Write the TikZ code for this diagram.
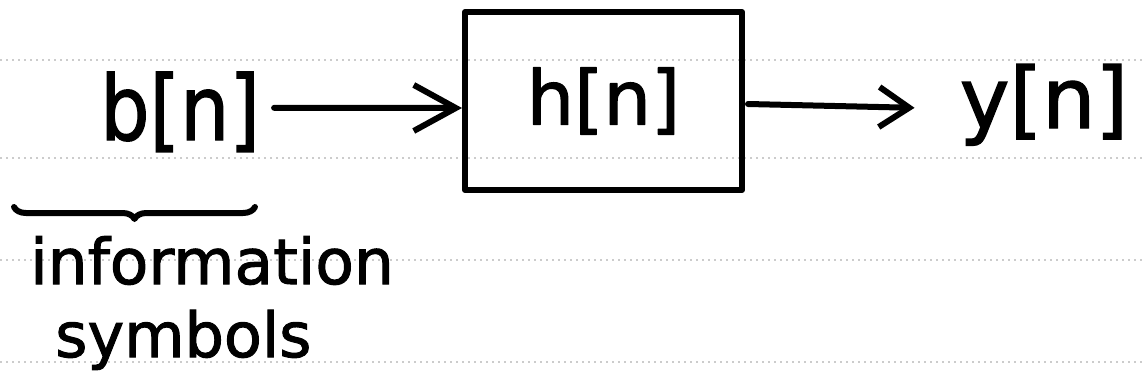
\documentclass[tikz,border=0pt]{standalone}
\usepackage{fontspec}
\setmainfont{DejaVu Sans}[FakeBold=1.6]
\usetikzlibrary{arrows.meta,decorations.pathreplacing}

\tikzset{
  ink/.style={line width=6pt, line cap=round, line join=round, black},
  rule/.style={gray!40, line width=1.2pt, dash pattern=on 1.5pt off 4.5pt},
  label/.style={inner sep=0pt, text=black},
  sysbox/.style={ink, draw, rectangle, minimum width=277pt, minimum height=178pt, inner sep=0pt},
  flow/.style={ink, -{Straight Barb[length=42pt,width=46pt,line width=6pt]}},
  flowshort/.style={ink, -{Straight Barb[length=30pt,width=40pt,line width=6pt]}},
  underbrace/.style={ink, decorate, decoration={brace, mirror, amplitude=12pt}}
}

\begin{document}
\begin{tikzpicture}[x=1pt, y=-1pt]
  \useasboundingbox[fill=white] (0,0) rectangle (1142,383);

  % faint ruled lines of the paper
  \foreach \ry in {60,158,260,362}
    \draw[rule] (0,\ry) -- (1142,\ry);

  % input, system and output
  \node[label, anchor=base, yscale=1.15] (b) at (180,140) {\fontsize{78}{90}\selectfont b[n]};
  \node[sysbox] (hbox) at (603.5,101) {\fontsize{75}{85}\selectfont h[n]};
  \node[label, anchor=base] (yn) at (1044,128) {\fontsize{84}{96}\selectfont y[n]};

  % signal flow
  \draw[flow] ([xshift=14pt,yshift=4pt]b.east) -- ([yshift=-7pt]hbox.west);
  \coordinate (yin) at ([xshift=-45pt,yshift=-3pt]yn.west);
  \draw[flowshort] ([xshift=3pt,yshift=-3pt]hbox.east) -- (yin);

  % brace and caption under the input
  \coordinate (brL) at (14,207);
  \coordinate (brR) at (255,207);
  \draw[underbrace] (brL) -- (brR);
  \node[label, anchor=base west] (info) at (30,284) {\fontsize{63}{72}\selectfont information};
  \node[label, anchor=base west] (sym) at (55,357) {\fontsize{62}{72}\selectfont symbols};
\end{tikzpicture}
\end{document}
